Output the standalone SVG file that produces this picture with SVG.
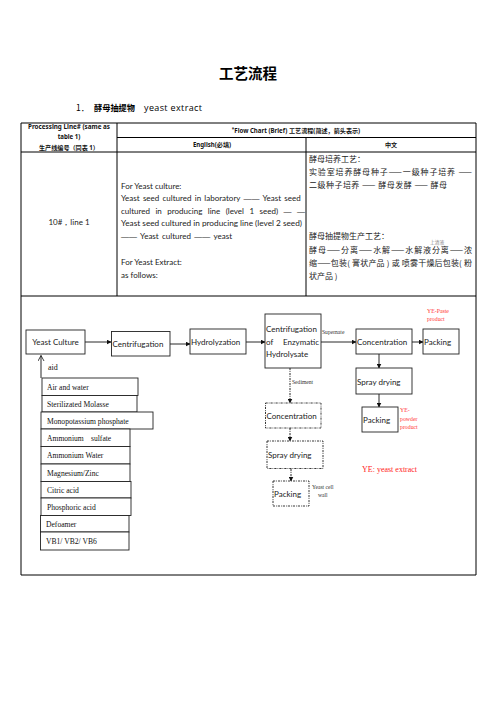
<svg xmlns="http://www.w3.org/2000/svg" width="496" height="702" viewBox="0 0 496 702">
<style>
.tl{stroke:#000;stroke-width:1;fill:none}
.hd{font-family:"Noto Sans","Noto Sans CJK SC",sans-serif;font-size:6.1px;font-weight:bold;fill:#111}
.en{font-family:Lato,"Noto Sans",sans-serif;font-size:8px;fill:#222}
.dash{font-family:"Liberation Sans",sans-serif}
.zh{font-family:"Noto Sans CJK SC",sans-serif;font-size:8px;fill:#222}
.box{fill:#fff;stroke:#222;stroke-width:0.9}
.dbox{fill:#fff;stroke:#222;stroke-width:0.9;stroke-dasharray:2.2,1,0.8,1}
.bt{font-family:Lato,"Noto Sans",sans-serif;font-size:8px;fill:#222}
.lt{font-family:"Liberation Serif",serif;font-size:7.6px;fill:#111}
.sm{font-family:"Liberation Serif",serif;font-size:5.6px;fill:#333}
.red{font-family:"Liberation Serif",serif;font-size:5.8px;fill:#ff3333}
.con{stroke:#111;stroke-width:0.9;fill:none}
.dcon{stroke:#111;stroke-width:0.9;fill:none;stroke-dasharray:2.2,1,0.8,1}
</style>
<defs>
<marker id="ah" markerWidth="5" markerHeight="5" refX="4.5" refY="2.5" orient="auto" markerUnits="userSpaceOnUse">
<path d="M0,0 L5,2.5 L0,5 Z" fill="#111"/>
</marker>
<marker id="oh" markerWidth="7" markerHeight="8" refX="6" refY="3.5" orient="auto" markerUnits="userSpaceOnUse">
<path d="M0.5,0.5 L6,3.5 L0.5,6.5" fill="none" stroke="#111" stroke-width="0.8"/>
</marker>
</defs>
<rect width="496" height="702" fill="#fff"/>

<!-- titles -->
<text x="248" y="78.5" text-anchor="middle" font-family="'Noto Sans CJK SC',sans-serif" font-size="14.5" font-weight="bold" fill="#000">工艺流程</text>
<text x="76" y="111" font-family="'Noto Sans CJK SC',sans-serif" font-size="8.5" fill="#000">1．</text>
<text x="94" y="111" font-family="'Noto Sans CJK SC',sans-serif" font-size="8.2" font-weight="bold" fill="#000">酵母抽提物</text>
<text x="144" y="111" font-family="'Open Sans',sans-serif" font-size="9" fill="#000" textLength="58" lengthAdjust="spacing">yeast extract</text>

<!-- table -->
<g id="table">
<line class="tl" x1="21" y1="123" x2="476" y2="123"/>
<line class="tl" x1="117" y1="137.5" x2="476" y2="137.5"/>
<line class="tl" x1="21" y1="152" x2="476" y2="152"/>
<line class="tl" x1="21" y1="296" x2="476" y2="296"/>
<line class="tl" x1="21" y1="575" x2="476" y2="575" stroke-width="1.2"/>
<line class="tl" x1="21" y1="123" x2="21" y2="575"/>
<line class="tl" x1="476" y1="123" x2="476" y2="575"/>
<line class="tl" x1="117" y1="123" x2="117" y2="296"/>
<line class="tl" x1="306" y1="137.5" x2="306" y2="296"/>
</g>

<g id="table-text">
<text class="hd" x="69" y="128.5" text-anchor="middle" textLength="82" lengthAdjust="spacingAndGlyphs">Processing Line# (same as</text>
<text class="hd" x="69" y="139" text-anchor="middle">table 1)</text>
<text class="hd" x="69" y="149.5" text-anchor="middle">生产线编号（同表 1）</text>
<text class="hd" x="296" y="132.5" text-anchor="middle"><tspan font-size="4.5" dy="-1.5">*</tspan><tspan dy="1.5">Flow Chart (Brief)  工艺流程(简述，箭头表示)</tspan></text>
<text class="hd" x="212" y="147" text-anchor="middle">English(必填)</text>
<text class="hd" x="391" y="147" text-anchor="middle">中文</text>

<text class="en" x="69" y="224.5" text-anchor="middle">10#，line 1</text>

<text class="en" x="121" y="188.5">For Yeast culture:</text>
<text class="en" x="121" y="201" word-spacing="1.2">Yeast seed cultured in laboratory <tspan class="dash">——</tspan> Yeast seed</text>
<text class="en" x="121" y="213.5" word-spacing="3.4">cultured in producing line (level 1 seed) <tspan class="dash">— —</tspan></text>
<text class="en" x="121" y="226" textLength="181" lengthAdjust="spacingAndGlyphs">Yeast seed cultured in producing line (level 2 seed)</text>
<text class="en" x="121" y="239" word-spacing="1.3"><tspan class="dash">——</tspan> Yeast cultured <tspan class="dash">——</tspan> yeast</text>
<text class="en" x="121" y="265">For Yeast Extract:</text>
<text class="en" x="121" y="278">as follows:</text>

<text class="zh" x="309" y="161.5">酵母培养工艺：</text>
<text class="zh" x="309" y="174.5" textLength="163" lengthAdjust="spacing">实验室培养酵母种子——一级种子培养 ——</text>
<text class="zh" x="309" y="187.5" textLength="138" lengthAdjust="spacing">二级种子培养 —— 酵母发酵 —— 酵母</text>
<text class="zh" x="309" y="239">酵母抽提物生产工艺：</text>
<text x="430" y="243.5" font-family="'Noto Sans CJK SC',sans-serif" font-size="4.8" fill="#888">上清液</text>
<text class="zh" x="309" y="252.5" textLength="163" lengthAdjust="spacing">酵母——分离——水解——水解液分离——浓</text>
<text class="zh" x="309" y="265.5" textLength="163" lengthAdjust="spacing">缩——包装( 膏状产品 ) 或 喷雾干燥后包装( 粉</text>
<text class="zh" x="309" y="278.5">状产品 )</text>
</g>

<!-- connectors -->
<g id="connectors">
<line class="con" x1="85" y1="342" x2="111" y2="342" marker-end="url(#ah)"/>
<line class="con" x1="170" y1="344" x2="190" y2="344" marker-end="url(#ah)"/>
<line class="con" x1="246" y1="342" x2="265" y2="342" marker-end="url(#ah)"/>
<line class="con" x1="321" y1="342" x2="356" y2="342" marker-end="url(#ah)"/>
<line class="con" x1="412" y1="342" x2="423" y2="342" marker-end="url(#ah)"/>
<line class="con" x1="379" y1="354" x2="379" y2="368" marker-end="url(#ah)"/>
<line class="con" x1="379" y1="394" x2="379" y2="407" marker-end="url(#ah)"/>
<line class="dcon" x1="290" y1="368" x2="290" y2="403" marker-end="url(#ah)"/>
<line class="dcon" x1="290" y1="428" x2="290" y2="441" marker-end="url(#ah)"/>
<line class="dcon" x1="291" y1="469" x2="291" y2="481" marker-end="url(#ah)"/>
<line class="con" x1="41" y1="378" x2="41" y2="355.5" marker-end="url(#oh)"/>
<text x="48" y="369.5" font-family="'Liberation Serif',serif" font-size="8" fill="#111">aid</text>
<text class="sm" x="322" y="334">Supernate</text>
<text class="sm" x="292" y="384">Sediment</text>
</g>

<!-- main flow nodes -->
<g id="yeast-culture"><rect class="box" x="26" y="330" width="59" height="24"/><text class="bt" x="55.5" y="344.8" text-anchor="middle">Yeast Culture</text></g>
<g id="centrifugation"><rect class="box" x="111.5" y="331.5" width="58.5" height="24.5"/><text class="bt" x="112.5" y="346.5">Centrifugation</text></g>
<g id="hydrolyzation"><rect class="box" x="190" y="329" width="56" height="25"/><text class="bt" x="191" y="344.5">Hydrolyzation</text></g>
<g id="centrifugation-enzymatic"><rect class="box" x="265" y="314" width="56" height="54"/>
<text class="bt" x="266" y="331.8">Centrifugation</text>
<text class="bt" x="266" y="344.5"><tspan>of</tspan><tspan x="283">Enzymatic</tspan></text>
<text class="bt" x="266" y="357.2">Hydrolysate</text></g>
<g id="concentration"><rect class="box" x="356" y="329" width="56" height="25"/><text class="bt" x="357" y="344.5">Concentration</text></g>
<g id="packing-paste"><rect class="box" x="423" y="329" width="36" height="25"/><text class="bt" x="424" y="344.5">Packing</text></g>
<text class="red" x="427" y="313">YE-Paste</text>
<text class="red" x="427" y="321">product</text>
<g id="spray-drying"><rect class="box" x="356" y="368" width="56" height="26"/><text class="bt" x="357" y="384.5">Spray drying</text></g>
<g id="packing-powder"><rect class="box" x="362" y="407" width="36" height="25"/><text class="bt" x="363" y="423">Packing</text></g>
<text class="red" x="400" y="412">YE-</text>
<text class="red" x="400" y="420.5">powder</text>
<text class="red" x="400" y="429">product</text>
<text x="362" y="471.5" font-family="'Liberation Serif',serif" font-size="8" fill="#ff2222">YE: yeast extract</text>

<!-- sediment flow -->
<g id="concentration-sediment"><rect class="dbox" x="265.5" y="403" width="55.5" height="25"/><text class="bt" x="266.5" y="418.5">Concentration</text></g>
<g id="spray-drying-sediment"><rect class="dbox" x="267" y="441" width="56" height="27.5"/><text class="bt" x="268" y="457.5">Spray drying</text></g>
<g id="packing-wall"><rect class="dbox" x="273" y="481" width="36" height="25"/><text class="bt" x="274" y="496.5">Packing</text></g>
<text class="sm" x="312" y="489">Yeast cell</text>
<text class="sm" x="318" y="497">wall</text>

<!-- aid list -->
<g id="aid-air"><rect class="box" x="42" y="378" width="96" height="17.5"/><text class="lt" x="47" y="389.5">Air and water</text></g>
<g id="aid-molasse"><rect class="box" x="42" y="395.5" width="95" height="16.5"/><text class="lt" x="47" y="406.5">Sterilizated Molasse</text></g>
<g id="aid-mkp"><rect class="box" x="41" y="412" width="112" height="17"/><text class="lt" x="47" y="423.5">Monopotassium phosphate</text></g>
<g id="aid-sulfate"><rect class="box" x="41" y="429" width="89" height="17.5"/><text class="lt" x="47" y="440.8"><tspan>Ammonium</tspan><tspan x="91">sulfate</tspan></text></g>
<g id="aid-ammwater"><rect class="box" x="41" y="446.5" width="89" height="17.5"/><text class="lt" x="47" y="458.2">Ammonium Water</text></g>
<g id="aid-mgzn"><rect class="box" x="41" y="464" width="89" height="17.5"/><text class="lt" x="47" y="475.7">Magnesium/Zinc</text></g>
<g id="aid-citric"><rect class="box" x="41" y="481.5" width="90" height="16.5"/><text class="lt" x="47" y="492.7">Citric acid</text></g>
<g id="aid-phosphoric"><rect class="box" x="41" y="498" width="90" height="17.5"/><text class="lt" x="47" y="509.7">Phosphoric acid</text></g>
<g id="aid-defoamer"><rect class="box" x="40.5" y="515.5" width="88.5" height="16.5"/><text class="lt" x="46" y="526.8">Defoamer</text></g>
<g id="aid-vb"><rect class="box" x="40.5" y="532" width="88.5" height="18"/><text class="lt" x="46" y="544">VB1/ VB2/ VB6</text></g>
</svg>
